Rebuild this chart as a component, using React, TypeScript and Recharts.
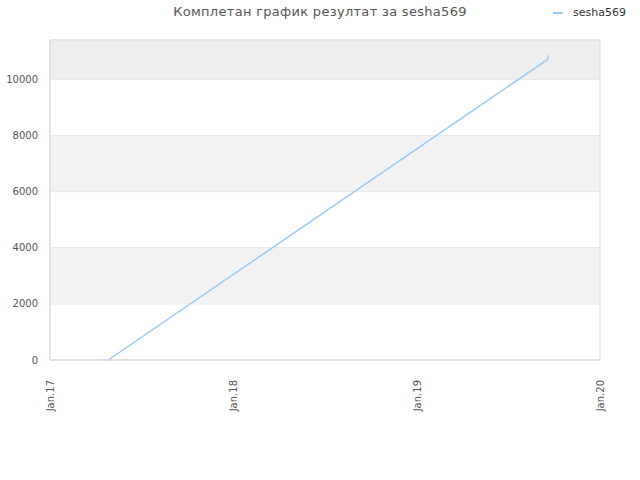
import React from "react";
import { LineChart, Line, XAxis, YAxis, CartesianGrid, ReferenceArea } from "recharts";

const seriesName = "sesha569";
const titleText = "Комплетан график резултат за sesha569";
const pointDates = ["2017-04-27", "2019-09-19", "2019-09-20"];
const pointValues = [0, 10712, 10854];
const xTickDates = ["2017-01-01", "2018-01-01", "2019-01-01", "2020-01-01"];
const xTickLabels = ["Jan.17", "Jan.18", "Jan.19", "Jan.20"];
const yTicks = [0, 2000, 4000, 6000, 8000, 10000];
const yMax = 11400;
const bands = [[2000, 4000, "#f2f2f2"], [6000, 8000, "#f2f2f2"], [10000, 11400, "#eeeeee"]] as const;

const toTs = (s: string) => Date.parse(s + "T00:00:00Z");
const data = pointDates.map((d, i) => ({ t: toTs(d), v: pointValues[i] }));
const xTicks = xTickDates.map(toTs);

const font = "'DejaVu Sans', sans-serif";

const XTick = (props: any) => {
  const { x, y, payload } = props;
  const idx = xTicks.indexOf(payload.value);
  return (
    <text
      transform={`translate(${x + 4},${y + 12}) rotate(-90)`}
      textAnchor="end"
      fontSize={10}
      fill="#555"
      fontFamily={font}
    >
      {xTickLabels[idx]}
    </text>
  );
};

export default function App() {
  return (
    <div style={{ position: "absolute", left: 0, top: 0, width: 640, height: 480, background: "#fff" }}>
      <div
        style={{
          position: "absolute",
          left: 0,
          width: 640,
          top: 4,
          textAlign: "center",
          fontFamily: font,
          fontSize: 13,
          letterSpacing: 0.3,
          color: "#555",
        }}
      >
        {titleText}
      </div>
      <div style={{ position: "absolute", left: 553, top: 6, display: "flex", alignItems: "center" }}>
        <div style={{ width: 10, height: 2, background: "#99c9f7", marginRight: 10 }} />
        <span style={{ fontFamily: font, fontSize: 11, color: "#333" }}>{seriesName}</span>
      </div>
      <LineChart
        width={640}
        height={480}
        data={data}
        margin={{ top: 40, right: 40, bottom: 0, left: 0 }}
      >
        {bands.map((b, i) => (
          <ReferenceArea key={i} y1={b[0]} y2={b[1]} fill={b[2]} fillOpacity={1} stroke="none" />
        ))}
        <CartesianGrid vertical={false} stroke="#e0e0e0" />
        <ReferenceArea y1={0} y2={yMax} fill="none" stroke="#dddddd" />
        <XAxis
          dataKey="t"
          type="number"
          scale="time"
          domain={[xTicks[0], xTicks[xTicks.length - 1]]}
          ticks={xTicks}
          tick={<XTick />}
          tickLine={false}
          axisLine={{ stroke: "#d8d8d8" }}
          height={120}
          interval={0}
        />
        <YAxis
          type="number"
          domain={[0, yMax]}
          ticks={yTicks}
          width={50}
          tickLine={false}
          tickSize={0}
          tickMargin={12}
          axisLine={{ stroke: "#d8d8d8" }}
          tick={{ fontSize: 10, fill: "#555", fontFamily: font }}
        />
        <Line
          type="linear"
          dataKey="v"
          stroke="#99c9f7"
          strokeWidth={1.5}
          dot={false}
          isAnimationActive={false}
        />
      </LineChart>
    </div>
  );
}
